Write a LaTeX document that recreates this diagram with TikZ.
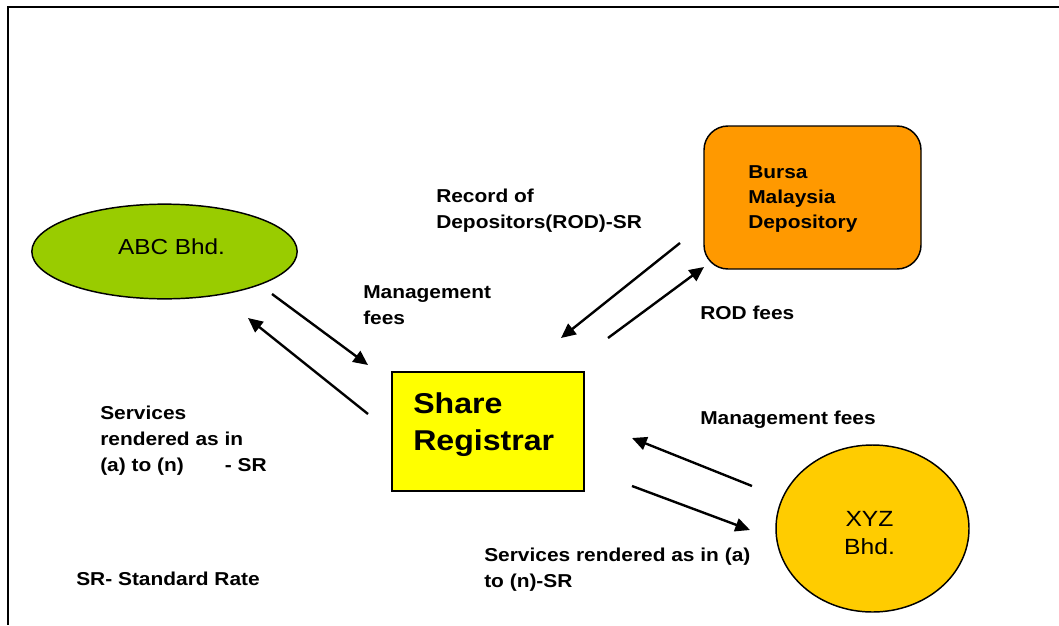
\documentclass[tikz,border=0pt]{standalone}
\usepackage{fontspec}
\setmainfont[FakeStretch=1.12]{Liberation Sans}
\usetikzlibrary{shapes.geometric,arrows.meta}
\definecolor{abcgreen}{HTML}{99CC00}
\definecolor{bursaorange}{HTML}{FF9900}
\definecolor{shareyellow}{HTML}{FFFF00}
\definecolor{xyzgold}{HTML}{FFCC00}
\begin{document}
\begin{tikzpicture}[x=0.75pt,y=-0.75pt,
  lbl/.style={anchor=north west,inner sep=0pt,align=left,font=\fontsize{14}{19.5}\selectfont\bfseries},
  flow/.style={line width=1.8pt,-{Triangle[length=11pt,width=10pt]}},
  shapeline/.style={draw=black,line width=1.1pt}]
\useasboundingbox (0,0) rectangle (1059,625);
% frame
\draw[line width=2pt] (1059,7) -- (8,7) -- (8,625);
% shapes
\node[shapeline,ellipse,fill=abcgreen,inner sep=0pt,minimum width=199pt,minimum height=71pt] (abc) at (164.5,251.5) {};
\node[anchor=base,inner sep=0pt,font=\fontsize{16.3}{19}\selectfont] (abctext) at (171.5,254) {ABC Bhd.};
\node[shapeline,rounded corners=18pt,fill=bursaorange,inner sep=0pt,minimum width=162.75pt,minimum height=107.25pt] (bursa) at (812.5,197.5) {};
\node[lbl,font=\fontsize{14}{18.75}\selectfont\bfseries] (bursatext) at (748,165.4) {Bursa\\Malaysia\\Depository};
\node[shapeline,fill=shareyellow,inner sep=0pt,minimum width=144pt,minimum height=89.25pt] (share) at (488,431.5) {};
\node[lbl,font=\fontsize{21.5}{27.75}\selectfont\bfseries] (sharetext) at (413,392) {Share\\Registrar};
\node[shapeline,ellipse,fill=xyzgold,inner sep=0pt,minimum width=144.75pt,minimum height=125.25pt] (xyz) at (872.5,528.5) {};
\node[anchor=north,inner sep=0pt,align=center,font=\fontsize{16.5}{21}\selectfont] (xyztext) at (869.5,511) {XYZ\\Bhd.};
% labels
\node[lbl] (rod) at (436,188.5) {Record of\\Depositors(ROD)-SR};
\node[lbl] (mfabc) at (363,285.5) {Management\\fees};
\node[lbl] (rodfees) at (700,305.5) {ROD fees};
\node[lbl] (srvabc) at (100,405.5) {Services\\rendered as in\\(a) to (n)\hspace{2.2em}- SR};
\node[lbl] (mfxyz) at (700,410.5) {Management fees};
\node[lbl] (srvxyz) at (484,547.5) {Services rendered as in (a)\\to (n)-SR};
\node[lbl] (srnote) at (76,571.5) {SR- Standard Rate};
% connector end points
\coordinate (a1s) at (272,294); \coordinate (a1e) at (368,365);
\coordinate (a2s) at (368,414); \coordinate (a2e) at (248,318);
\coordinate (a3s) at (680,243); \coordinate (a3e) at (561,338);
\coordinate (a4s) at (608,338); \coordinate (a4e) at (704,267);
\coordinate (a5s) at (752,486); \coordinate (a5e) at (632,438);
\coordinate (a6s) at (632,486); \coordinate (a6e) at (750,530);
\draw[flow] (a1s) -- (a1e);
\draw[flow] (a2s) -- (a2e);
\draw[flow] (a3s) -- (a3e);
\draw[flow] (a4s) -- (a4e);
\draw[flow] (a5s) -- (a5e);
\draw[flow] (a6s) -- (a6e);
\end{tikzpicture}
\end{document}
